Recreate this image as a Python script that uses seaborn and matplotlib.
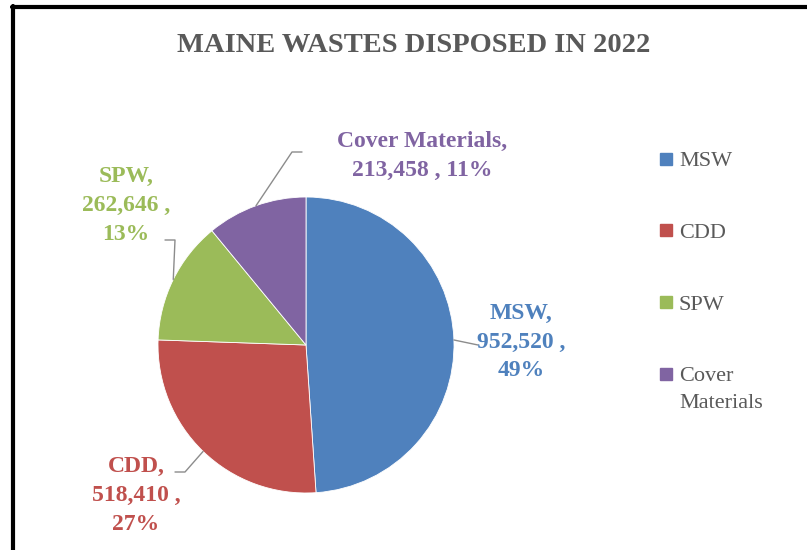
import matplotlib
matplotlib.use("Agg")
import matplotlib.pyplot as plt
import seaborn as sns
import numpy as np
from matplotlib.lines import Line2D

sns.set_theme(style="white")
plt.rcParams["font.family"] = ["Liberation Serif", "DejaVu Serif"]

# data
categories = ["MSW", "CDD", "SPW", "Cover Materials"]
tons = [952520, 518410, 262646, 213458]
percents = ["49%", "27%", "13%", "11%"]
label_texts = ["MSW,\n952,520 ,\n49%", "CDD,\n518,410 ,\n27%",
               "SPW,\n262,646 ,\n13%", "Cover Materials,\n213,458 , 11%"]
legend_names = ["MSW", "CDD", "SPW", "Cover"]
colors = ["#4F81BD", "#C0504D", "#9BBB59", "#8064A2"]
text_colors = ["#4F81BD", "#C0504D", "#9BBB59", "#8064A2"]

W, H = 807, 550
fig = plt.figure(figsize=(W / 100, H / 100), dpi=100)
fig.patch.set_facecolor("white")

# pie axes: centre (306, 345) px, radius 148 px, data limits -2..2
cx, cy, R = 306, 345, 148
half = 2 * R
ax = fig.add_axes([(cx - half) / W, (H - cy - half) / H, 2 * half / W, 2 * half / H])

wedges, _ = ax.pie(tons, colors=colors, startangle=90, counterclock=False,
                   radius=1.0, wedgeprops=dict(linewidth=0.6, edgecolor="white"))
ax.set_xlim(-2, 2)
ax.set_ylim(-2, 2)
ax.set_aspect("equal")
ax.axis("off")

def px(x, y):
    return ((x - cx) / R, (cy - y) / R)

# label anchors and leader elbows (pixel layout)
label_pos = [(521, 342), (136, 495), (126, 205), (422, 156)]
elbows = [[(478, 345)], [(185, 472), (175, 472)],
          [(175, 240), (165, 240)], [(292, 152), (302, 152)]]

for w, txt, col, lp, elb in zip(wedges, label_texts, text_colors, label_pos, elbows):
    mid = np.deg2rad((w.theta1 + w.theta2) / 2)
    pts = [(np.cos(mid), np.sin(mid))] + [px(*p) for p in elb]
    xs, ys = zip(*pts)
    ax.plot(xs, ys, color="#8C8C8C", lw=1.0, clip_on=False)
    tx, ty = px(*lp)
    ax.text(tx, ty, txt, color=col, fontsize=17, fontweight="bold",
            ha="center", va="center", linespacing=1.5, clip_on=False)

fig.text(414 / W, 1 - 45 / H, "MAINE WASTES DISPOSED IN 2022", ha="center",
         va="center", fontsize=20.5, fontweight="bold", color="#595959")

handles = [Line2D([], [], marker="s", linestyle="none", markersize=9,
                  markerfacecolor=c, markeredgecolor=c) for c in colors]
leg = fig.legend(handles, legend_names, loc="upper left",
                 bbox_to_anchor=(650 / W, 1 - 142 / H), frameon=False,
                 fontsize=16, labelspacing=2.3, handlelength=0.6,
                 handletextpad=0.3, borderaxespad=0)
for t in leg.get_texts():
    t.set_color("#595959")

# second line of the last legend entry
fig.canvas.draw()
bb = leg.get_texts()[-1].get_window_extent()
fig.text(bb.x0 / W, (bb.y0 - 27) / H, "Materials", ha="left", va="bottom",
         fontsize=16, color="#595959")

# frame: left and top edges
fig.add_artist(Line2D([13.5 / W, 13.5 / W], [0, 1 - 6 / H], transform=fig.transFigure,
                      color="black", lw=3))
fig.add_artist(Line2D([12 / W, 1], [1 - 6.5 / H, 1 - 6.5 / H], transform=fig.transFigure,
                      color="black", lw=3))

fig.savefig("out.png", dpi=100)
